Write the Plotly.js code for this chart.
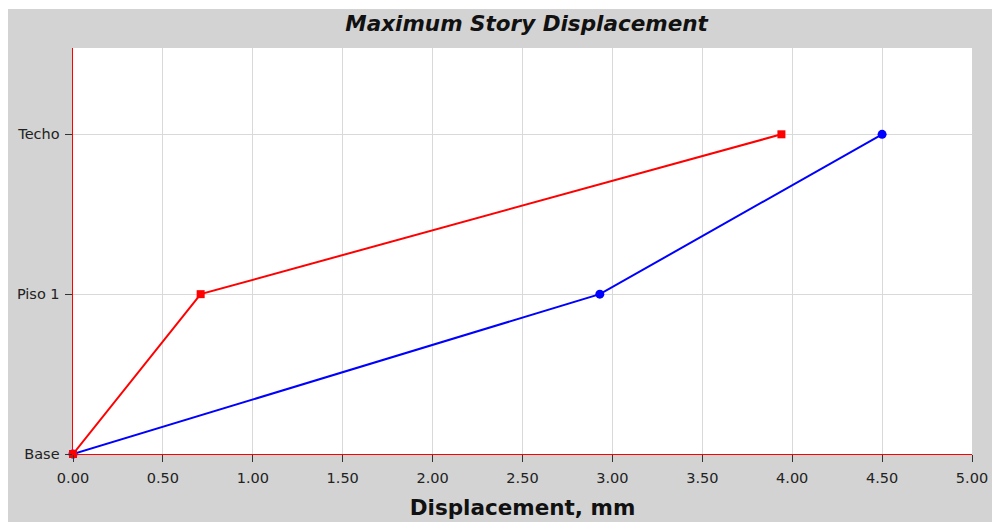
<!DOCTYPE html>
<html>
<head>
<meta charset="utf-8">
<script src="https://cdn.plot.ly/plotly-3.0.1.min.js"></script>
<style>
html, body { margin: 0; padding: 0; background: #ffffff; width: 992px; height: 522px; overflow: hidden; }
#chart { position: absolute; left: 8px; top: 9px; width: 984px; height: 513px; }
</style>
</head>
<body>
<div id="chart"></div>
<script>
const storyLevels = [0, 1, 2];
const storyNames = ["Base", "Piso 1", "Techo"];
const dispRed = [0.00, 0.71, 3.94];
const dispBlue = [0.00, 2.93, 4.50];
const xTicks = [0, 0.5, 1, 1.5, 2, 2.5, 3, 3.5, 4, 4.5, 5];

const traces = [
  {
    x: dispBlue, y: storyLevels, type: 'scatter', mode: 'lines+markers',
    line: { color: '#0000ff', width: 2 },
    marker: { color: '#0000ff', symbol: 'circle', size: 9 },
    cliponaxis: false, showlegend: false
  },
  {
    x: dispRed, y: storyLevels, type: 'scatter', mode: 'lines+markers',
    line: { color: '#ff0000', width: 2 },
    marker: { color: '#ff0000', symbol: 'square', size: 8 },
    cliponaxis: false, showlegend: false
  }
];

const layout = {
  width: 984, height: 513,
  paper_bgcolor: '#d3d3d3',
  plot_bgcolor: '#ffffff',
  margin: { l: 65, r: 20, t: 39, b: 68 },
  font: { family: '"DejaVu Sans", Verdana, sans-serif', color: '#222222', size: 14.5 },
  title: {
    text: 'Maximum Story Displacement',
    font: { family: '"DejaVu Sans", Verdana, sans-serif', size: 21.5, color: '#111111', weight: 'bold', style: 'italic' },
    x: 0.527, xanchor: 'center', y: 0.971, yanchor: 'middle'
  },
  xaxis: {
    range: [0, 5],
    tickvals: xTicks,
    tickformat: '.2f',
    showgrid: true, gridcolor: '#d9d9d9', gridwidth: 1,
    zeroline: false,
    showline: true, linecolor: '#ff0000', linewidth: 1,
    ticks: 'outside', ticklen: 7, tickcolor: '#333333', tickwidth: 1,
    ticklabelstandoff: 4,
    tickfont: { size: 14.5, color: '#222222' },
    title: { text: 'Displacement, mm', font: { family: '"DejaVu Sans", Verdana, sans-serif', size: 21.5, color: '#111111', weight: 'bold' }, standoff: 14 },
    fixedrange: true
  },
  yaxis: {
    range: [0, 2.54],
    tickvals: storyLevels,
    ticktext: storyNames,
    showgrid: true, gridcolor: '#d9d9d9', gridwidth: 1,
    zeroline: false,
    showline: true, linecolor: '#ff0000', linewidth: 1.5,
    ticks: 'outside', ticklen: 7, tickcolor: '#333333', tickwidth: 1,
    ticklabelstandoff: 2,
    tickfont: { size: 14.5, color: '#222222' },
    fixedrange: true
  },
  showlegend: false
};

Plotly.newPlot('chart', traces, layout, { displayModeBar: false, staticPlot: true });
</script>
</body>
</html>
